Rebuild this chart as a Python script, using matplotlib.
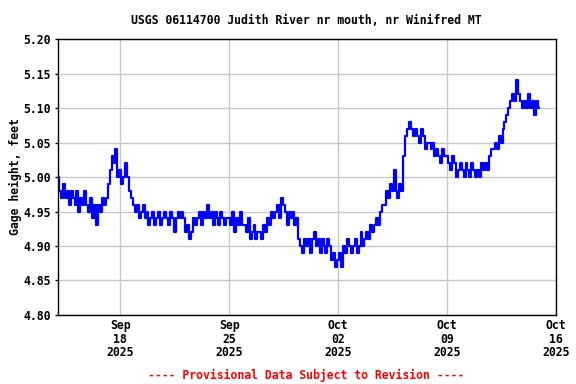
import numpy as np
import pandas as pd
import matplotlib
matplotlib.use("Agg")
import matplotlib.pyplot as plt

# gage height, feet, read every 3 hours from 2025-09-14 00:00 (8 values per day)
gage = [
    5.00, 4.98, 4.97, 4.99, 4.97, 4.98, 4.96, 4.98,  # Sep 14
    4.97, 4.96, 4.98, 4.95, 4.97, 4.96, 4.98, 4.96,  # Sep 15
    4.95, 4.97, 4.94, 4.96, 4.93, 4.96, 4.95, 4.97,  # Sep 16
    4.96, 4.97, 4.99, 5.01, 5.03, 5.02, 5.04, 5.00,  # Sep 17
    5.01, 4.99, 5.00, 5.02, 5.00, 4.98, 4.97, 4.96,  # Sep 18
    4.95, 4.96, 4.94, 4.95, 4.96, 4.94, 4.95, 4.93,  # Sep 19
    4.94, 4.95, 4.93, 4.94, 4.95, 4.93, 4.94, 4.95,  # Sep 20
    4.94, 4.93, 4.95, 4.94, 4.92, 4.94, 4.95, 4.94,  # Sep 21
    4.95, 4.94, 4.92, 4.93, 4.91, 4.92, 4.94, 4.93,  # Sep 22
    4.94, 4.95, 4.93, 4.95, 4.94, 4.96, 4.94, 4.95,  # Sep 23
    4.93, 4.95, 4.94, 4.93, 4.95, 4.94, 4.93, 4.94,  # Sep 24
    4.94, 4.93, 4.95, 4.92, 4.94, 4.93, 4.95, 4.93,  # Sep 25
    4.93, 4.92, 4.94, 4.91, 4.92, 4.93, 4.91, 4.92,  # Sep 26
    4.92, 4.91, 4.93, 4.92, 4.94, 4.93, 4.95, 4.94,  # Sep 27
    4.95, 4.96, 4.94, 4.97, 4.96, 4.95, 4.93, 4.95,  # Sep 28
    4.94, 4.95, 4.93, 4.94, 4.91, 4.90, 4.89, 4.91,  # Sep 29
    4.90, 4.91, 4.89, 4.91, 4.92, 4.90, 4.91, 4.89,  # Sep 30
    4.91, 4.90, 4.89, 4.91, 4.90, 4.88, 4.89, 4.87,  # Oct 01
    4.88, 4.89, 4.87, 4.90, 4.89, 4.91, 4.90, 4.89,  # Oct 02
    4.90, 4.91, 4.89, 4.90, 4.92, 4.90, 4.91, 4.92,  # Oct 03
    4.91, 4.93, 4.92, 4.93, 4.94, 4.93, 4.95, 4.96,  # Oct 04
    4.96, 4.98, 4.97, 4.99, 4.98, 5.01, 4.98, 4.97,  # Oct 05
    4.99, 4.98, 5.03, 5.06, 5.07, 5.08, 5.07, 5.06,  # Oct 06
    5.07, 5.06, 5.05, 5.07, 5.06, 5.04, 5.05, 5.05,  # Oct 07
    5.04, 5.05, 5.03, 5.04, 5.03, 5.02, 5.04, 5.03,  # Oct 08
    5.03, 5.02, 5.01, 5.03, 5.02, 5.00, 5.01, 5.02,  # Oct 09
    5.01, 5.00, 5.02, 5.01, 5.00, 5.02, 5.01, 5.00,  # Oct 10
    5.01, 5.00, 5.02, 5.01, 5.02, 5.01, 5.03, 5.04,  # Oct 11
    5.04, 5.05, 5.04, 5.06, 5.05, 5.07, 5.08, 5.09,  # Oct 12
    5.10, 5.11, 5.12, 5.11, 5.14, 5.12, 5.11, 5.10,  # Oct 13
    5.11, 5.10, 5.12, 5.10, 5.11, 5.09, 5.11, 5.10,  # Oct 14
]
times = pd.date_range("2025-09-14 00:00", periods=len(gage), freq="3h")

tick_dates = pd.to_datetime(["2025-09-18", "2025-09-25", "2025-10-02", "2025-10-09", "2025-10-16"])
tick_labels = ["Sep\n18\n2025", "Sep\n25\n2025", "Oct\n02\n2025", "Oct\n09\n2025", "Oct\n16\n2025"]
y_ticks = [4.80, 4.85, 4.90, 4.95, 5.00, 5.05, 5.10, 5.15, 5.20]

mono = "DejaVu Sans Mono"
fs = 8.3
fig = plt.figure(figsize=(5.76, 3.84), dpi=100)
ax = fig.add_axes([0.1007, 0.1797, 0.8646, 0.7187])

ax.plot(times, gage, color="#0000ff", linewidth=1.6, drawstyle="steps-mid")

ax.set_xlim(pd.Timestamp("2025-09-14"), pd.Timestamp("2025-10-16"))
ax.set_ylim(4.80, 5.20)
ax.set_xticks(tick_dates)
ax.set_xticklabels(tick_labels, fontfamily=mono, fontweight="bold", fontsize=fs,
                   linespacing=1.05)
ax.set_yticks(y_ticks)
ax.set_yticklabels([f"{v:.2f}" for v in y_ticks], fontfamily=mono, fontweight="bold",
                   fontsize=fs)
ax.tick_params(axis="x", length=0, pad=3)
ax.tick_params(axis="y", length=2, width=1, pad=3)
ax.grid(True, color="#c8c8c8", linewidth=1)
ax.set_axisbelow(True)
for s in ax.spines.values():
    s.set_linewidth(1)
    s.set_color("black")

ax.set_ylabel("Gage height, feet", fontfamily=mono, fontweight="bold", fontsize=fs,
              labelpad=1)
fig.text(0.531, 0.946, "USGS 06114700 Judith River nr mouth, nr Winifred MT",
         ha="center", va="center", fontfamily=mono, fontweight="bold", fontsize=fs)
fig.text(0.531, 0.023, "---- Provisional Data Subject to Revision ----",
         ha="center", va="center", fontfamily=mono, fontweight="bold", fontsize=fs,
         color="red")

fig.savefig("out.png", dpi=100)
